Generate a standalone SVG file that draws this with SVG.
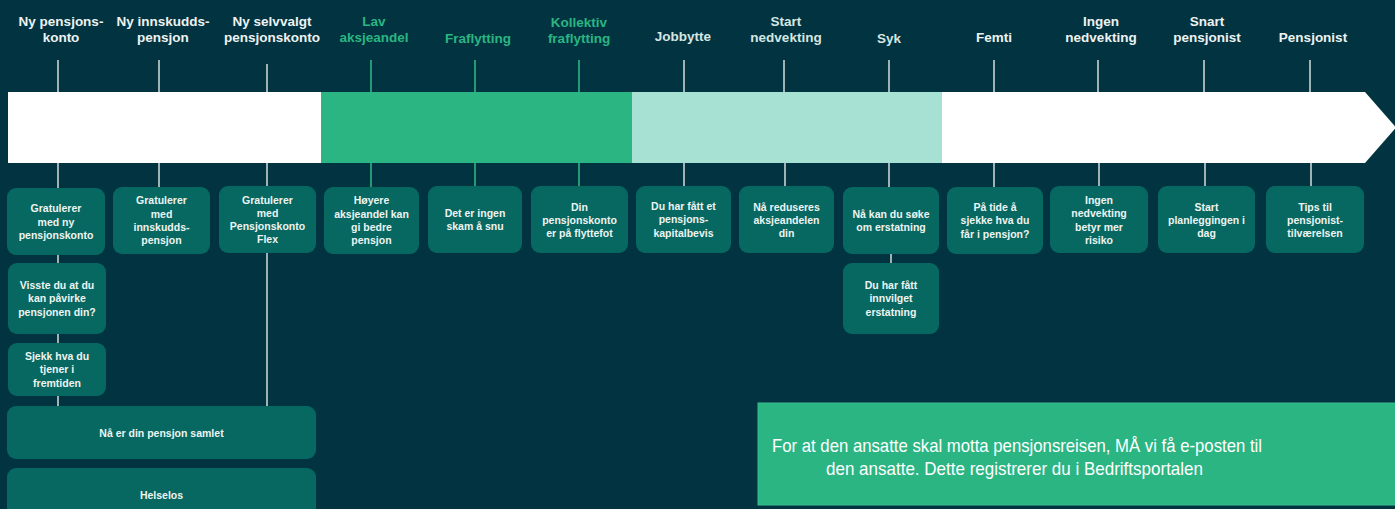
<svg xmlns="http://www.w3.org/2000/svg" width="1395" height="509" viewBox="0 0 1395 509">
<style>
.hd{font-family:"Liberation Sans",Arial,sans-serif;font-weight:bold;font-size:13.5px;fill:#eef2f2;text-anchor:middle}
.hg{fill:#2bb583}
.hm{fill:#d6e6e2}
.bx{fill:#066861}
.bt{font-family:"Liberation Sans",Arial,sans-serif;font-weight:bold;font-size:10.5px;fill:#eef4f2;text-anchor:middle}
.ln{stroke:#c8d2d4;stroke-width:1.6;fill:none}
.lg{stroke:#2bb583;stroke-width:1.6;fill:none}
.nt{font-family:"Liberation Sans",Arial,sans-serif;font-size:18.5px;fill:#ffffff}
</style>
<rect x="0" y="0" width="1395" height="509" fill="#013440"/>

<g id="timeline">
<rect x="8" y="92" width="314" height="71" fill="#ffffff"/>
<rect x="321" y="92" width="312" height="71" fill="#2bb583"/>
<rect x="632" y="92" width="311" height="71" fill="#a6e1d4"/>
<path d="M942 92 H1365 L1396 127.5 L1365 163 H942 Z" fill="#ffffff"/>
</g>

<g id="connectors">
<path class="ln" d="M58 60V92M58 163V188M58 255V263M58 334V343M58 396V406"/>
<path class="ln" d="M159 60V92M159 163V187"/>
<path class="ln" d="M267 64V92M267 163V187M267 253V406"/>
<path class="lg" d="M371 60V92M371 163V187"/>
<path class="lg" d="M475 60V92M475 163V187"/>
<path class="lg" d="M579 60V92M579 163V187"/>
<path class="ln" d="M684 60V92M684 163V187"/>
<path class="ln" d="M784 60V92M785 163V187"/>
<path class="ln" d="M889 60V92M889 163V187M891 254V263"/>
<path class="ln" d="M994 60V92M994 163V187"/>
<path class="ln" d="M1098 60V92M1099 163V187"/>
<path class="ln" d="M1204 60V92M1205 163V187"/>
<path class="ln" d="M1310 60V92M1311 163V187"/>
</g>

<g id="headers">
<text class="hd" x="61" y="26">Ny pensjons-</text><text class="hd" x="61" y="42">konto</text>
<text class="hd" x="163" y="26">Ny innskudds-</text><text class="hd" x="163" y="42">pensjon</text>
<text class="hd" x="272" y="26">Ny selvvalgt</text><text class="hd" x="272" y="42">pensjonskonto</text>
<text class="hd hg" x="374" y="26">Lav</text><text class="hd hg" x="374" y="42">aksjeandel</text>
<text class="hd hg" x="478" y="43">Fraflytting</text>
<text class="hd hg" x="579" y="27">Kollektiv</text><text class="hd hg" x="579" y="43">fraflytting</text>
<text class="hd hm" x="683" y="41">Jobbytte</text>
<text class="hd hm" x="786" y="26">Start</text><text class="hd hm" x="786" y="42">nedvekting</text>
<text class="hd hm" x="889" y="43">Syk</text>
<text class="hd" x="994" y="42">Femti</text>
<text class="hd" x="1101" y="26">Ingen</text><text class="hd" x="1101" y="42">nedvekting</text>
<text class="hd" x="1207" y="26">Snart</text><text class="hd" x="1207" y="42">pensjonist</text>
<text class="hd" x="1313" y="42">Pensjonist</text>
</g>

<g id="n1"><rect class="bx" x="7" y="188" width="98" height="67" rx="9"/>
<text class="bt" x="56" y="212">Gratulerer</text><text class="bt" x="56" y="225.5">med ny</text><text class="bt" x="56" y="238.8">pensjonskonto</text></g>
<g id="n1b"><rect class="bx" x="8" y="263" width="98" height="71" rx="9"/>
<text class="bt" x="57" y="289">Visste du at du</text><text class="bt" x="57" y="302.3">kan påvirke</text><text class="bt" x="57" y="315.6">pensjonen din?</text></g>
<g id="n1c"><rect class="bx" x="8" y="343" width="98" height="53" rx="9"/>
<text class="bt" x="57" y="360">Sjekk hva du</text><text class="bt" x="57" y="373.3">tjener i</text><text class="bt" x="57" y="386.6">fremtiden</text></g>
<g id="n2"><rect class="bx" x="113" y="187" width="97" height="67" rx="9"/>
<text class="bt" x="161.5" y="204.2">Gratulerer</text><text class="bt" x="161.5" y="217.5">med</text><text class="bt" x="161.5" y="230.8">innskudds-</text><text class="bt" x="161.5" y="244.1">pensjon</text></g>
<g id="n3"><rect class="bx" x="219" y="186" width="97" height="67" rx="9"/>
<text class="bt" x="267.5" y="203.5">Gratulerer</text><text class="bt" x="267.5" y="216.8">med</text><text class="bt" x="267.5" y="230.1">Pensjonskonto</text><text class="bt" x="267.5" y="243.4">Flex</text></g>
<g id="n4"><rect class="bx" x="324" y="187" width="95" height="67" rx="9"/>
<text class="bt" x="371.5" y="204.2">Høyere</text><text class="bt" x="371.5" y="217.5">aksjeandel kan</text><text class="bt" x="371.5" y="230.8">gi bedre</text><text class="bt" x="371.5" y="244.1">pensjon</text></g>
<g id="n5"><rect class="bx" x="428" y="186" width="94" height="67" rx="9"/>
<text class="bt" x="475" y="216.8">Det er ingen</text><text class="bt" x="475" y="230.1">skam å snu</text></g>
<g id="n6"><rect class="bx" x="531" y="186" width="97" height="67" rx="9"/>
<text class="bt" x="579.5" y="210.5">Din</text><text class="bt" x="579.5" y="223.8">pensjonskonto</text><text class="bt" x="579.5" y="237.1">er på flyttefot</text></g>
<g id="n7"><rect class="bx" x="636" y="186" width="95" height="67" rx="9"/>
<text class="bt" x="683.5" y="210">Du har fått et</text><text class="bt" x="683.5" y="223.3">pensjons-</text><text class="bt" x="683.5" y="236.6">kapitalbevis</text></g>
<g id="n8"><rect class="bx" x="739" y="186" width="95" height="67" rx="9"/>
<text class="bt" x="786.5" y="210.5">Nå reduseres</text><text class="bt" x="786.5" y="223.8">aksjeandelen</text><text class="bt" x="786.5" y="237.1">din</text></g>
<g id="n9"><rect class="bx" x="843" y="187" width="96" height="67" rx="9"/>
<text class="bt" x="891" y="217.5">Nå kan du søke</text><text class="bt" x="891" y="230.8">om erstatning</text></g>
<g id="n9b"><rect class="bx" x="843" y="263" width="96" height="71" rx="9"/>
<text class="bt" x="891" y="289">Du har fått</text><text class="bt" x="891" y="302.3">innvilget</text><text class="bt" x="891" y="315.6">erstatning</text></g>
<g id="n10"><rect class="bx" x="947" y="187" width="96" height="67" rx="9"/>
<text class="bt" x="995" y="211">På tide å</text><text class="bt" x="995" y="224.3">sjekke hva du</text><text class="bt" x="995" y="237.6">får i pensjon?</text></g>
<g id="n11"><rect class="bx" x="1050" y="186" width="98" height="67" rx="9"/>
<text class="bt" x="1099" y="204">Ingen</text><text class="bt" x="1099" y="217.3">nedvekting</text><text class="bt" x="1099" y="230.6">betyr mer</text><text class="bt" x="1099" y="243.9">risiko</text></g>
<g id="n12"><rect class="bx" x="1158" y="186" width="97" height="67" rx="9"/>
<text class="bt" x="1206.5" y="210.5">Start</text><text class="bt" x="1206.5" y="223.8">planleggingen i</text><text class="bt" x="1206.5" y="237.1">dag</text></g>
<g id="n13"><rect class="bx" x="1266" y="186" width="98" height="67" rx="9"/>
<text class="bt" x="1315" y="210.5">Tips til</text><text class="bt" x="1315" y="223.8">pensjonist-</text><text class="bt" x="1315" y="237.1">tilværelsen</text></g>
<g id="n14"><rect class="bx" x="7" y="406" width="309" height="53" rx="9"/>
<text class="bt" x="161.5" y="436.7">Nå er din pensjon samlet</text></g>
<g id="n15"><rect class="bx" x="7" y="468" width="309" height="60" rx="9"/>
<text class="bt" x="161.5" y="498.7">Helselos</text></g>

<g id="notice"><rect x="758" y="403" width="650" height="102" fill="#2bb583" stroke="#3bbd8e" stroke-width="1"/>
<text class="nt" x="772" y="452" textLength="490" lengthAdjust="spacingAndGlyphs">For at den ansatte skal motta pensjonsreisen, MÅ vi få e-posten til</text>
<text class="nt" x="826" y="475" textLength="377" lengthAdjust="spacingAndGlyphs">den ansatte. Dette registrerer du i Bedriftsportalen</text></g>
</svg>
